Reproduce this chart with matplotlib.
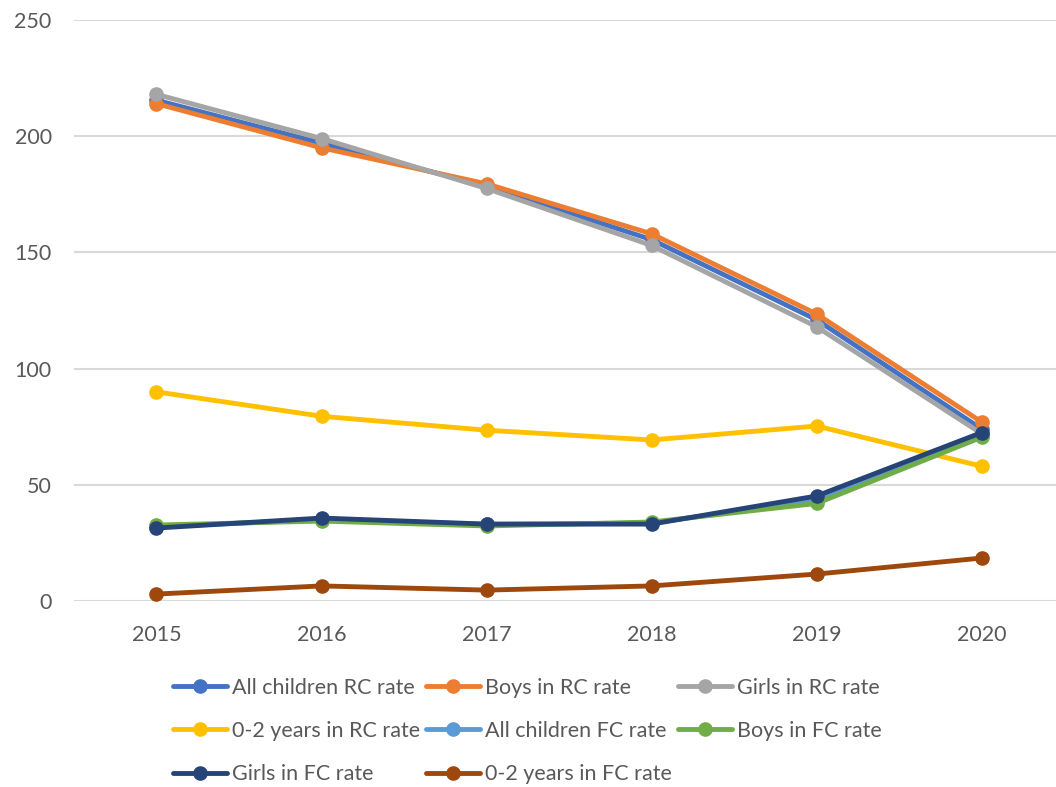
import matplotlib.pyplot as plt

years = ['2015', '2016', '2017', '2018', '2019', '2020']

all_rc = [215.5, 197, 178.5, 155.5, 121, 74]
boys_rc = [214, 195, 179.5, 158, 123.5, 77]
girls_rc = [218, 199, 177.5, 153, 118, 72]
young_rc = [90, 79.5, 73.5, 69.3, 75.3, 58]
all_fc = [32, 35, 33, 33.5, 43.5, 71.5]
boys_fc = [32.7, 34.4, 32.3, 34, 42, 70.5]
girls_fc = [31.4, 35.7, 33.1, 33.1, 45.2, 72.5]
young_fc = [3, 6.5, 4.7, 6.5, 11.6, 18.5]

series = [
	('All children RC rate', all_rc, '#4472C4'),
	('Boys in RC rate', boys_rc, '#ED7D31'),
	('Girls in RC rate', girls_rc, '#A5A5A5'),
	('0-2 years in RC rate', young_rc, '#FFC000'),
	('All children FC rate', all_fc, '#5B9BD5'),
	('Boys in FC rate', boys_fc, '#70AD47'),
	('Girls in FC rate', girls_fc, '#264478'),
	('0-2 years in FC rate', young_fc, '#9E480E'),
]

plt.rcParams['font.family'] = ['Lato', 'DejaVu Sans']
text_color = '#595959'

fig = plt.figure(figsize=(10.56, 7.87), dpi=100)
ax = fig.add_axes([0.070, 0.2363, 0.930, 0.7383])

x = list(range(len(years)))
lines = []
for label, values, color in series:
	ln, = ax.plot(x, values, color=color, linewidth=3.5, marker='o', markersize=9.5,
				  label=label, solid_capstyle='round')
	lines.append(ln)

ax.set_xlim(-0.5, 5.45)
ax.set_ylim(0, 250)
ax.set_yticks(range(0, 251, 50))
ax.set_xticks(x)
ax.set_xticklabels(years)
ax.grid(axis='y', color='#D9D9D9', linewidth=1.5)
ax.set_axisbelow(True)
for spine in ax.spines.values():
	spine.set_visible(False)
ax.tick_params(length=0, labelsize=15.5, labelcolor=text_color)
ax.tick_params(axis='x', pad=17)
ax.tick_params(axis='y', pad=16)

# legend fills column by column, so reorder to read across rows
order = [0, 3, 6, 1, 4, 7, 2, 5]
leg = fig.legend([lines[i] for i in order], [series[i][0] for i in order],
				 loc='upper left', bbox_to_anchor=(0.1557, 0.150), ncol=3,
				 frameon=False, labelcolor=text_color, fontsize=15.5,
				 handlelength=2.5, handletextpad=0.23, columnspacing=0.3,
				 labelspacing=1.08, borderaxespad=0)

fig.savefig('out.png', dpi=100)
